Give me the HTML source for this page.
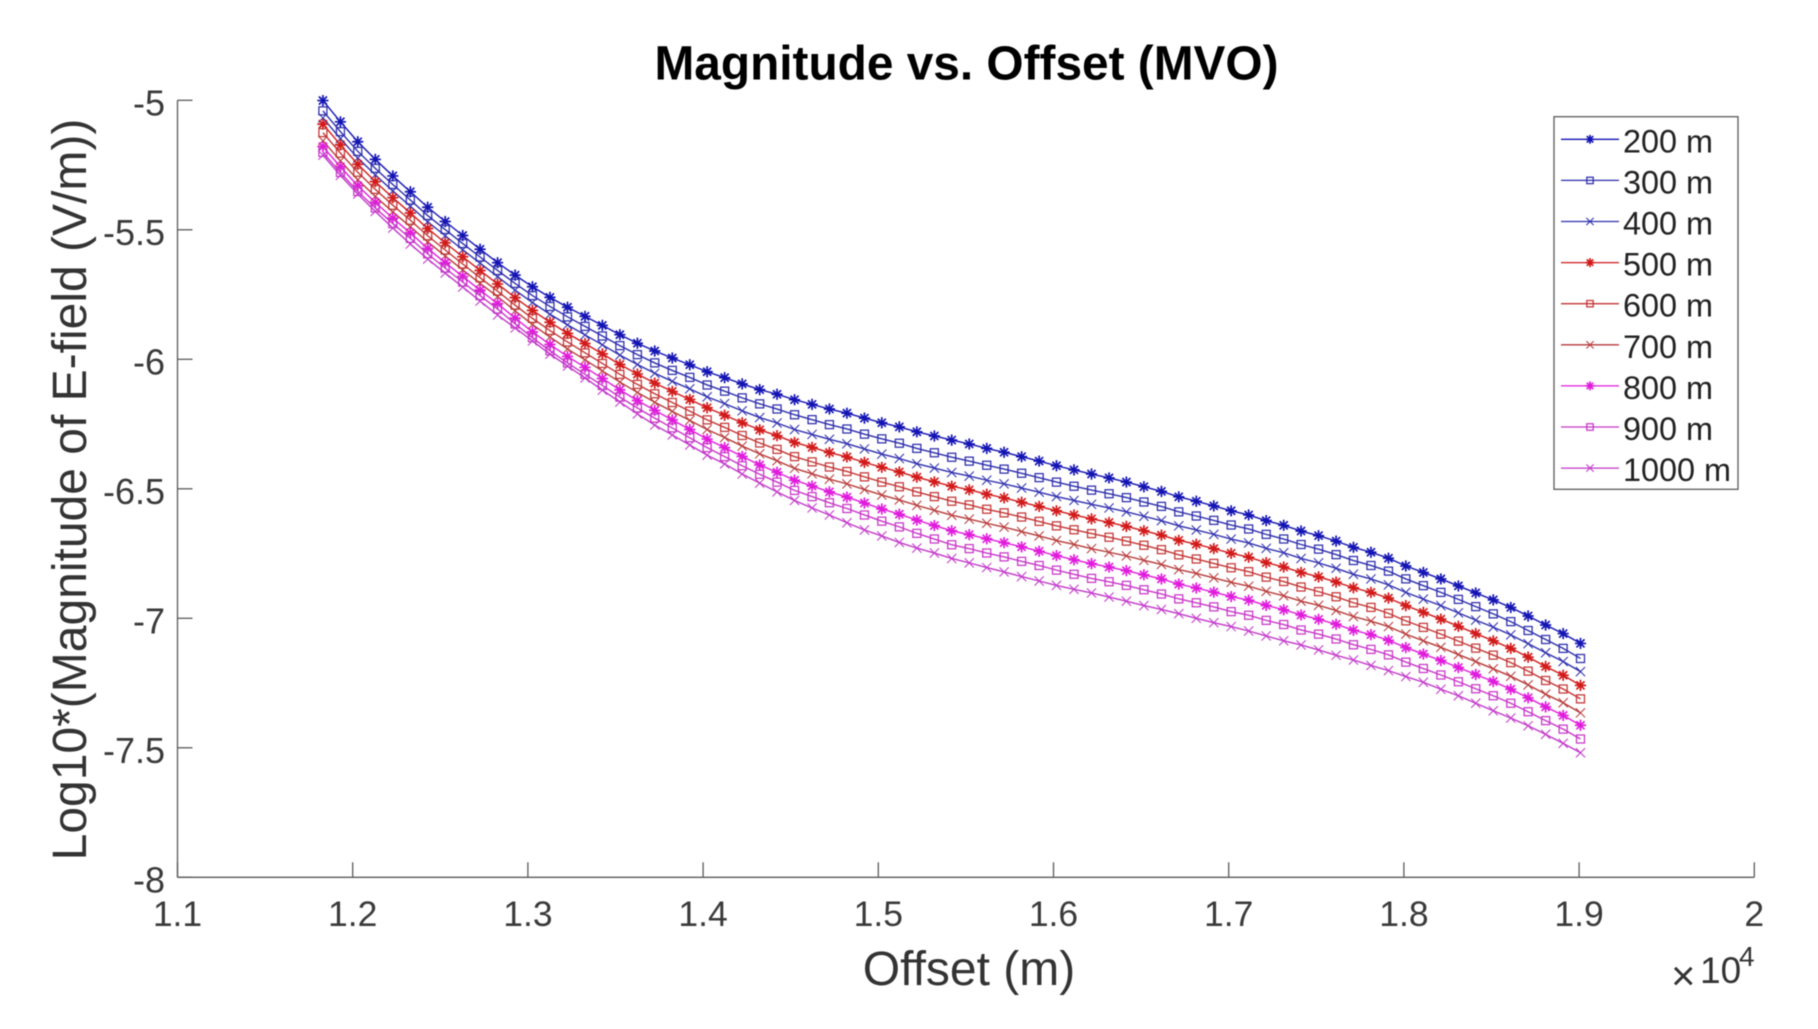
<!DOCTYPE html>
<html lang="en">
<head>
<meta charset="utf-8">
<title>Magnitude vs. Offset (MVO)</title>
<style>
html,body{margin:0;padding:0;background:#fff;width:1818px;height:1029px;overflow:hidden}
svg{display:block;filter:blur(0.6px)}
text{font-family:"Liberation Sans",Arial,sans-serif}
</style>
</head>
<body>
<svg id="chart" xmlns="http://www.w3.org/2000/svg" width="1818" height="1029" viewBox="0 0 1818 1029">
  <rect x="0" y="0" width="1818" height="1029" fill="#fff"/>
  <text x="966.5" y="79.5" text-anchor="middle" font-size="47.8" font-weight="bold" fill="#000">Magnitude vs. Offset (MVO)</text>
  <text transform="translate(86,489.5) rotate(-90)" text-anchor="middle" font-size="48" fill="#333">Log10*(Magnitude of E-field (V/m))</text>
  <text x="969" y="985" text-anchor="middle" font-size="48" fill="#333">Offset (m)</text>
  <g fill="#333">
    <text x="1671" y="990" font-size="42">×</text>
    <text x="1700" y="983" font-size="37">10</text>
    <text x="1739" y="966" font-size="28">4</text>
  </g>
  <g id="axes"></g>
  <g id="series"></g>
  <g id="legend"></g>
</svg>
<script>
const offsets = [11830,11930,12029,12129,12229,12329,12428,12528,12628,12727,12827,12927,13026,13126,13226,13326,13425,13525,13625,13724,13824,13924,14023,14123,14223,14323,14422,14522,14622,14721,14821,14921,15020,15120,15220,15320,15419,15519,15619,15718,15818,15918,16017,16117,16217,16317,16416,16516,16616,16715,16815,16915,17014,17114,17214,17314,17413,17513,17613,17712,17812,17912,18011,18111,18211,18311,18410,18510,18610,18709,18809,18909,19008];
const m200 = [-5.001,-5.083,-5.160,-5.228,-5.292,-5.353,-5.413,-5.468,-5.522,-5.575,-5.627,-5.675,-5.720,-5.761,-5.799,-5.834,-5.869,-5.905,-5.938,-5.968,-5.995,-6.021,-6.048,-6.071,-6.095,-6.117,-6.135,-6.156,-6.174,-6.192,-6.208,-6.227,-6.245,-6.261,-6.280,-6.296,-6.312,-6.327,-6.344,-6.359,-6.376,-6.393,-6.411,-6.427,-6.443,-6.458,-6.474,-6.492,-6.510,-6.531,-6.548,-6.566,-6.585,-6.601,-6.623,-6.641,-6.663,-6.681,-6.702,-6.726,-6.745,-6.768,-6.798,-6.823,-6.848,-6.875,-6.902,-6.929,-6.958,-6.991,-7.026,-7.059,-7.097];
const m300 = [-5.041,-5.121,-5.197,-5.263,-5.325,-5.385,-5.445,-5.499,-5.553,-5.605,-5.657,-5.707,-5.754,-5.796,-5.836,-5.873,-5.910,-5.947,-5.982,-6.014,-6.043,-6.070,-6.099,-6.123,-6.149,-6.172,-6.192,-6.214,-6.233,-6.252,-6.269,-6.289,-6.307,-6.324,-6.344,-6.361,-6.378,-6.393,-6.409,-6.424,-6.440,-6.457,-6.474,-6.490,-6.505,-6.519,-6.534,-6.551,-6.568,-6.589,-6.605,-6.622,-6.640,-6.655,-6.676,-6.694,-6.715,-6.733,-6.754,-6.777,-6.796,-6.818,-6.848,-6.874,-6.900,-6.927,-6.955,-6.983,-7.013,-7.047,-7.082,-7.116,-7.155];
const m400 = [-5.068,-5.148,-5.223,-5.288,-5.350,-5.409,-5.469,-5.523,-5.577,-5.629,-5.681,-5.733,-5.781,-5.826,-5.867,-5.906,-5.944,-5.984,-6.020,-6.054,-6.085,-6.114,-6.145,-6.171,-6.199,-6.225,-6.246,-6.271,-6.290,-6.309,-6.326,-6.346,-6.366,-6.383,-6.403,-6.420,-6.437,-6.451,-6.467,-6.481,-6.497,-6.513,-6.530,-6.545,-6.560,-6.574,-6.589,-6.606,-6.623,-6.643,-6.659,-6.676,-6.694,-6.709,-6.730,-6.747,-6.769,-6.786,-6.807,-6.830,-6.848,-6.871,-6.900,-6.926,-6.951,-6.979,-7.007,-7.034,-7.064,-7.098,-7.133,-7.167,-7.206];
const m500 = [-5.092,-5.172,-5.247,-5.314,-5.376,-5.435,-5.495,-5.550,-5.604,-5.657,-5.709,-5.762,-5.811,-5.857,-5.900,-5.939,-5.979,-6.020,-6.057,-6.092,-6.124,-6.155,-6.187,-6.216,-6.245,-6.272,-6.295,-6.321,-6.340,-6.360,-6.377,-6.398,-6.417,-6.435,-6.455,-6.473,-6.490,-6.504,-6.521,-6.535,-6.552,-6.568,-6.585,-6.601,-6.616,-6.630,-6.645,-6.662,-6.679,-6.699,-6.714,-6.731,-6.749,-6.764,-6.785,-6.802,-6.823,-6.840,-6.860,-6.882,-6.900,-6.922,-6.951,-6.977,-7.003,-7.031,-7.059,-7.087,-7.116,-7.150,-7.186,-7.220,-7.259];
const m600 = [-5.125,-5.204,-5.278,-5.344,-5.405,-5.463,-5.523,-5.578,-5.632,-5.685,-5.737,-5.791,-5.842,-5.889,-5.933,-5.975,-6.016,-6.058,-6.097,-6.133,-6.167,-6.200,-6.234,-6.263,-6.294,-6.323,-6.348,-6.376,-6.396,-6.416,-6.433,-6.454,-6.474,-6.492,-6.512,-6.530,-6.548,-6.562,-6.579,-6.593,-6.609,-6.626,-6.643,-6.658,-6.673,-6.687,-6.702,-6.718,-6.735,-6.755,-6.771,-6.788,-6.805,-6.820,-6.841,-6.858,-6.879,-6.897,-6.917,-6.940,-6.958,-6.981,-7.010,-7.035,-7.061,-7.088,-7.115,-7.142,-7.171,-7.204,-7.240,-7.273,-7.311];
const m700 = [-5.156,-5.234,-5.307,-5.371,-5.431,-5.488,-5.547,-5.601,-5.655,-5.707,-5.758,-5.813,-5.866,-5.914,-5.960,-6.002,-6.045,-6.088,-6.128,-6.166,-6.201,-6.236,-6.271,-6.302,-6.335,-6.365,-6.392,-6.421,-6.442,-6.463,-6.481,-6.503,-6.524,-6.543,-6.564,-6.583,-6.602,-6.617,-6.633,-6.648,-6.665,-6.682,-6.700,-6.715,-6.731,-6.745,-6.759,-6.776,-6.792,-6.812,-6.827,-6.844,-6.861,-6.876,-6.896,-6.913,-6.934,-6.950,-6.970,-6.993,-7.011,-7.032,-7.061,-7.087,-7.112,-7.140,-7.167,-7.195,-7.224,-7.257,-7.293,-7.326,-7.365];
const m800 = [-5.179,-5.257,-5.330,-5.394,-5.455,-5.512,-5.572,-5.627,-5.680,-5.733,-5.785,-5.841,-5.894,-5.943,-5.989,-6.031,-6.074,-6.118,-6.159,-6.197,-6.234,-6.271,-6.308,-6.341,-6.375,-6.408,-6.436,-6.467,-6.489,-6.512,-6.532,-6.555,-6.578,-6.598,-6.621,-6.642,-6.662,-6.677,-6.693,-6.708,-6.724,-6.741,-6.758,-6.774,-6.789,-6.802,-6.816,-6.832,-6.848,-6.868,-6.883,-6.899,-6.916,-6.930,-6.950,-6.967,-6.987,-7.004,-7.023,-7.046,-7.063,-7.085,-7.113,-7.138,-7.163,-7.190,-7.217,-7.244,-7.274,-7.307,-7.342,-7.375,-7.413];
const m900 = [-5.201,-5.279,-5.352,-5.416,-5.476,-5.533,-5.593,-5.648,-5.702,-5.754,-5.806,-5.863,-5.917,-5.967,-6.014,-6.058,-6.101,-6.146,-6.188,-6.227,-6.265,-6.303,-6.341,-6.376,-6.411,-6.444,-6.474,-6.506,-6.530,-6.554,-6.576,-6.601,-6.625,-6.647,-6.672,-6.694,-6.716,-6.731,-6.748,-6.763,-6.780,-6.796,-6.814,-6.830,-6.846,-6.859,-6.873,-6.890,-6.906,-6.925,-6.940,-6.956,-6.974,-6.988,-7.008,-7.024,-7.045,-7.061,-7.080,-7.102,-7.120,-7.141,-7.169,-7.194,-7.219,-7.245,-7.272,-7.299,-7.328,-7.361,-7.395,-7.428,-7.466];
const m1000 = [-5.212,-5.290,-5.362,-5.429,-5.493,-5.555,-5.613,-5.667,-5.721,-5.775,-5.829,-5.879,-5.929,-5.980,-6.026,-6.072,-6.119,-6.165,-6.211,-6.254,-6.292,-6.331,-6.370,-6.404,-6.443,-6.478,-6.512,-6.545,-6.574,-6.601,-6.631,-6.659,-6.682,-6.707,-6.729,-6.748,-6.769,-6.786,-6.804,-6.821,-6.839,-6.856,-6.873,-6.888,-6.902,-6.918,-6.934,-6.951,-6.966,-6.982,-7.000,-7.017,-7.032,-7.049,-7.068,-7.087,-7.103,-7.122,-7.143,-7.161,-7.182,-7.202,-7.225,-7.247,-7.274,-7.299,-7.328,-7.357,-7.385,-7.415,-7.448,-7.483,-7.519];
const seriesValues = [m200,m300,m400,m500,m600,m700,m800,m900,m1000];
const seriesLabels = ["200 m","300 m","400 m","500 m","600 m","700 m","800 m","900 m","1000 m"];
const seriesKinds = ["star","square","cross","star","square","cross","star","square","cross"];
const seriesColors = ["#1414b4","#2c2cac","#2f2fae","#d21a1a","#c43434","#b83a3a","#e01cdc","#c835c8","#c238ca"];
const xTickValues = [11000,12000,13000,14000,15000,16000,17000,18000,19000,20000];
const xTickLabels = ["1.1","1.2","1.3","1.4","1.5","1.6","1.7","1.8","1.9","2"];
const yTickValues = [-5,-5.5,-6,-6.5,-7,-7.5,-8];
const yTickLabels = ["-5","-5.5","-6","-6.5","-7","-7.5","-8"];

const NS = "http://www.w3.org/2000/svg";
const xDomain = [11000,20000], xRange = [177.5,1754.3];
const yDomain = [-5,-8], yRange = [100.3,877.3];
function xScale(v){return xRange[0]+(v-xDomain[0])/(xDomain[1]-xDomain[0])*(xRange[1]-xRange[0]);}
function yScale(v){return yRange[0]+(v-yDomain[0])/(yDomain[1]-yDomain[0])*(yRange[1]-yRange[0]);}
function make(tag,attrs){const el=document.createElementNS(NS,tag);for(const k in attrs){el.setAttribute(k,attrs[k]);}return el;}
function markerPath(kind,x,y,s){
  if(kind==="square"){return `M${x-s} ${y-s}H${x+s}V${y+s}H${x-s}Z`;}
  if(kind==="cross"){return `M${x-s} ${y-s}L${x+s} ${y+s}M${x-s} ${y+s}L${x+s} ${y-s}`;}
  const d=s*0.72;
  return `M${x-s} ${y}H${x+s}M${x} ${y-s}V${y+s}M${x-d} ${y-d}L${x+d} ${y+d}M${x-d} ${y+d}L${x+d} ${y-d}`;
}
const markerSize={star:5.6,square:4,cross:4.6};
const markerWidth={star:1.7,square:1.25,cross:1.05};

const axes=document.getElementById("axes");
const axisStyle={stroke:"#5a5a5a","stroke-width":1.3,fill:"none"};
const yAxisLine=make("line",Object.assign({x1:xRange[0],y1:yRange[0],x2:xRange[0],y2:yRange[1]},axisStyle));


axes.appendChild(yAxisLine);
const xAxisLine=make("line",Object.assign({x1:xRange[0],y1:yRange[1],x2:xRange[1],y2:yRange[1]},axisStyle));


axes.appendChild(xAxisLine);
xTickValues.forEach((v,i)=>{
  const x=xScale(v);
  const tick=make("line",Object.assign({x1:x,y1:yRange[1],x2:x,y2:yRange[1]-15},axisStyle));
  
  
  axes.appendChild(tick);
  const label=make("text",{x:x,y:926,"text-anchor":"middle","font-size":35.5,fill:"#3a3a3a"});
  
  
  label.textContent=xTickLabels[i];
  axes.appendChild(label);
});
yTickValues.forEach((v,i)=>{
  const y=yScale(v);
  const tick=make("line",Object.assign({x1:xRange[0],y1:y,x2:xRange[0]+15,y2:y},axisStyle));
  
  
  axes.appendChild(tick);
  const label=make("text",{x:165,y:y+15,"text-anchor":"end","font-size":36,fill:"#3a3a3a"});
  
  
  label.textContent=yTickLabels[i];
  axes.appendChild(label);
});

const seriesRoot=document.getElementById("series");
seriesValues.forEach((vals,si)=>{
  const group=make("g",{});
  
  
  const pts=vals.map((v,i)=>xScale(offsets[i]).toFixed(2)+","+yScale(v).toFixed(2)).join(" ");
  const line=make("polyline",{points:pts,fill:"none",stroke:seriesColors[si],"stroke-width":1.4});
  
  
  group.appendChild(line);
  const kind=seriesKinds[si];
  vals.forEach((v,i)=>{
    const mark=make("path",{d:markerPath(kind,xScale(offsets[i]),yScale(v),markerSize[kind]),fill:"none",stroke:seriesColors[si],"stroke-width":markerWidth[kind]});
    
    
    group.appendChild(mark);
  });
  seriesRoot.appendChild(group);
});

const legend=document.getElementById("legend");
const legendBox=make("rect",{x:1554,y:116.7,width:184,height:372.6,fill:"#fff",stroke:"#5a5a5a","stroke-width":1.3});


legend.appendChild(legendBox);
const legendRowGap=41.1;
seriesLabels.forEach((lab,i)=>{
  const y=139.3+i*legendRowGap;
  const row=make("g",{});
  
  
  const ln=make("line",{x1:1569,y1:y,x2:1627,y2:y,stroke:seriesColors[i],"stroke-width":1.3});
  ln.setAttribute('x1',1561);
  ln.setAttribute('x2',1619);
  
  
  row.appendChild(ln);
  const kind=seriesKinds[i];
  const mk=make("path",{d:markerPath(kind,1590,y,markerSize[kind]*0.8),fill:"none",stroke:seriesColors[i],"stroke-width":markerWidth[kind]});
  
  
  row.appendChild(mk);
  const tx=make("text",{x:1623,y:y+13,"font-size":32.4,fill:"#222"});
  
  
  tx.textContent=lab;
  row.appendChild(tx);
  legend.appendChild(row);
});
</script>
</body>
</html>
